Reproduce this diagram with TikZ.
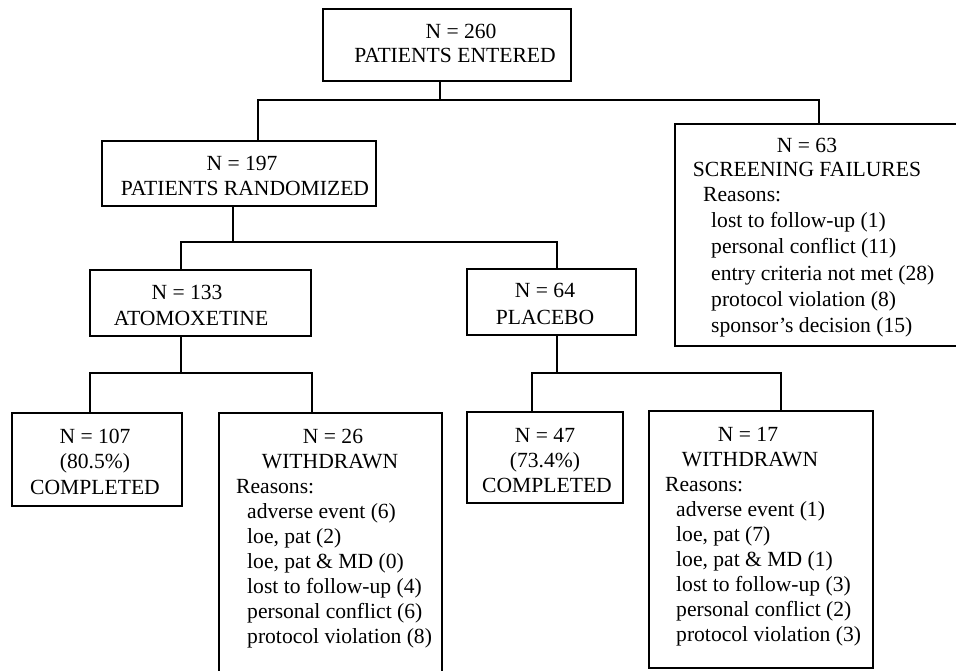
\documentclass[tikz,border=0pt]{standalone}
\usepackage{fontspec}
\setmainfont{Liberation Serif}
\begin{document}
\begin{tikzpicture}[x=1pt,y=-1pt,
  box/.style={draw, line width=1.8pt, inner sep=0pt, rectangle},
  link/.style={line width=1.8pt},
  ctxt/.style={inner sep=0pt, anchor=base, font=\fontsize{21.6}{25}\selectfont},
  ltxt/.style={inner sep=0pt, anchor=base west, font=\fontsize{21.6}{25}\selectfont}]
\useasboundingbox (0,0) rectangle (956,671);
\clip (0,0) rectangle (956,671);
% boxes
\node[box, minimum width=248pt, minimum height=72pt] (top) at (447,45) {};
\node[box, minimum width=274pt, minimum height=65pt] (rand) at (239,173.5) {};
\node[box, minimum width=320pt, minimum height=222pt] (scr) at (835,235) {};
\node[box, minimum width=221pt, minimum height=66pt] (ato) at (200.5,303) {};
\node[box, minimum width=169pt, minimum height=66pt] (pla) at (551.5,302) {};
\node[box, minimum width=170pt, minimum height=93pt] (c1) at (97,459.5) {};
\node[box, minimum width=223pt, minimum height=287pt] (w1) at (330.5,556.5) {};
\node[box, minimum width=156pt, minimum height=91pt] (c2) at (545,457.5) {};
\node[box, minimum width=224pt, minimum height=257pt] (w2) at (761,539.5) {};
% junction coordinates
\coordinate (j1) at (440,100);
\coordinate (l1) at (258,100);
\coordinate (r1) at (819,100);
\coordinate (j2) at (233,242);
\coordinate (l2) at (181,242);
\coordinate (r2) at (557,242);
\coordinate (j3) at (181,373);
\coordinate (l3) at (90,373);
\coordinate (r3) at (312,373);
\coordinate (j4) at (557,373);
\coordinate (l4) at (532,373);
\coordinate (r4) at (781,373);
% connectors
\draw[link] (top.south -| j1) -- (j1);
\draw[link] (rand.north -| l1) -- (l1) -- (r1) -- (scr.north -| r1);
\draw[link] (rand.south -| j2) -- (j2);
\draw[link] (ato.north -| l2) -- (l2) -- (r2) -- (pla.north -| r2);
\draw[link] (ato.south -| j3) -- (j3);
\draw[link] (c1.north -| l3) -- (l3) -- (r3) -- (w1.north -| r3);
\draw[link] (pla.south -| j4) -- (j4);
\draw[link] (c2.north -| l4) -- (l4) -- (r4) -- (w2.north -| r4);
% texts: top
\node[ctxt] (t1) at (461,39) {N = 260};
\node[ctxt] (t2) at (455,63) {PATIENTS ENTERED};
% randomized
\node[ctxt] (ra1) at (242,171) {N = 197};
\node[ctxt] (ra2) at (245,196) {PATIENTS RANDOMIZED};
% screening
\node[ctxt] (s1) at (807,153) {N = 63};
\node[ctxt] (s2) at (807,177) {SCREENING FAILURES};
\node[ltxt] (s3) at (703,202) {Reasons:};
\node[ltxt] (s4) at (711,228) {lost to follow-up (1)};
\node[ltxt] (s5) at (711,254) {personal conflict (11)};
\node[ltxt] (s6) at (711,280) {entry criteria not met (28)};
\node[ltxt] (s7) at (711,306) {protocol violation (8)};
\node[ltxt] (s8) at (711,332) {sponsor’s decision (15)};
% atomoxetine
\node[ctxt] (a1) at (187,299) {N = 133};
\node[ctxt] (a2) at (191,325) {ATOMOXETINE};
% placebo
\node[ctxt] (p1) at (545,298) {N = 64};
\node[ctxt] (p2) at (545,324) {PLACEBO};
% completed 1
\node[ctxt] (c1a) at (95,443) {N = 107};
\node[ctxt] (c1b) at (95,468) {(80.5\%)};
\node[ctxt] (c1c) at (95,494) {COMPLETED};
% withdrawn 1
\node[ctxt] (w1a) at (333,443) {N = 26};
\node[ctxt] (w1b) at (330,468) {WITHDRAWN};
\node[ltxt] (w1c) at (236,493) {Reasons:};
\node[ltxt] (w1d) at (247,518) {adverse event (6)};
\node[ltxt] (w1e) at (247,543) {loe, pat (2)};
\node[ltxt] (w1f) at (247,568) {loe, pat \& MD (0)};
\node[ltxt] (w1g) at (247,593) {lost to follow-up (4)};
\node[ltxt] (w1h) at (247,618) {personal conflict (6)};
\node[ltxt] (w1i) at (247,643) {protocol violation (8)};
% completed 2
\node[ctxt] (c2a) at (545,442) {N = 47};
\node[ctxt] (c2b) at (545,467) {(73.4\%)};
\node[ctxt] (c2c) at (547,492) {COMPLETED};
% withdrawn 2
\node[ctxt] (w2a) at (748,441) {N = 17};
\node[ctxt] (w2b) at (750,466) {WITHDRAWN};
\node[ltxt] (w2c) at (665,491) {Reasons:};
\node[ltxt] (w2d) at (676,516) {adverse event (1)};
\node[ltxt] (w2e) at (676,541) {loe, pat (7)};
\node[ltxt] (w2f) at (676,566) {loe, pat \& MD (1)};
\node[ltxt] (w2g) at (676,591) {lost to follow-up (3)};
\node[ltxt] (w2h) at (676,616) {personal conflict (2)};
\node[ltxt] (w2i) at (676,641) {protocol violation (3)};
\end{tikzpicture}
\end{document}
